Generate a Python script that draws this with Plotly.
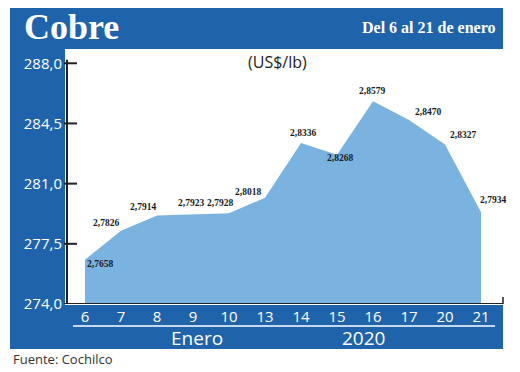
import plotly.graph_objects as go

# ---- data ----
days = ["6", "7", "8", "9", "10", "13", "14", "15", "16", "17", "20", "21"]
prices = [2.7658, 2.7826, 2.7914, 2.7923, 2.7928, 2.8018, 2.8336, 2.8268, 2.8579, 2.8470, 2.8327, 2.7934]
price_labels = ["2,7658", "2,7826", "2,7914", "2,7923", "2,7928", "2,8018",
                "2,8336", "2,8268", "2,8579", "2,8470", "2,8327", "2,7934"]
y_tick_vals = [274.0, 277.5, 281.0, 284.5, 288.0]
y_tick_text = ["274,0", "277,5", "281,0", "284,5", "288,0"]
title_text = "Cobre"
subtitle_text = "Del 6 al 21 de enero"
unit_text = "(US$/lb)"
month_text = "Enero"
year_text = "2020"
source_text = "Fuente: Cochilco"

# label offsets (pixels) and anchors for value labels
label_style = [
    ("left", 0, -4), ("right", 0, 8), ("right", 1, 9), ("center", -2, 11),
    ("center", -9, 10), ("right", -2, 6), ("center", 2, 10), ("center", 3, -3),
    ("center", -1, 10), ("center", 19, 8), ("center", 18, 10), ("center", 12, 12),
]

BLUE = "#1f63ab"
AREA = "#7ab2e0"

OFF = 8  # page body margin
W, H = 520 - OFF, 372 - OFF
L, R, T, B = 67 - OFF, 17, 49 - OFF, 68
PW, PH = W - L - R, H - T - B


def px(x):
    return (x - OFF - L) / PW


def py(y):
    return (H - B - (y - OFF)) / PH


xi = list(range(len(days)))
yv = [p * 100 for p in prices]

fig = go.Figure()
fig.add_trace(go.Scatter(
    x=xi, y=yv, mode="lines", fill="tozeroy",
    line=dict(color=AREA, width=0), fillcolor=AREA, hoverinfo="skip",
))

shapes = [
    # title bar
    dict(type="rect", xref="paper", yref="paper", x0=px(10), x1=px(503), y0=py(49), y1=py(5),
         fillcolor=BLUE, line=dict(width=0), layer="below"),
    # left column
    dict(type="rect", xref="paper", yref="paper", x0=px(10), x1=px(65), y0=py(306), y1=py(49),
         fillcolor=BLUE, line=dict(width=0), layer="below"),
    # bottom band
    dict(type="rect", xref="paper", yref="paper", x0=px(10), x1=px(503), y0=py(349), y1=py(305),
         fillcolor=BLUE, line=dict(width=0), layer="below"),
    # y axis line
    dict(type="line", xref="paper", yref="y", x0=0, x1=0, y0=274, y1=288.2,
         line=dict(color="#222222", width=2)),
    # x axis line
    dict(type="line", xref="paper", yref="y", x0=0, x1=1, y0=274, y1=274,
         line=dict(color="#222222", width=2)),
    dict(type="line", xref="paper", yref="paper", x0=1, x1=1, y0=0, y1=py(297),
         line=dict(color="#222222", width=1.5)),
    # white underline
    dict(type="line", xref="paper", yref="paper", x0=px(73), x1=px(495), y0=py(326), y1=py(326),
         line=dict(color="white", width=1.5)),
]
for v in y_tick_vals:
    shapes.append(dict(type="line", xref="paper", yref="y", x0=px(64), x1=px(77), y0=v, y1=v,
                       line=dict(color="#222222", width=2)))

annotations = [
    dict(text=title_text, xref="paper", yref="paper", x=px(22), y=py(27), xanchor="left", yanchor="middle",
         showarrow=False, font=dict(family="Liberation Serif", size=36, color="white", weight="bold")),
    dict(text=subtitle_text, xref="paper", yref="paper", x=px(497), y=py(27), xanchor="right", yanchor="middle",
         showarrow=False, font=dict(family="Liberation Serif", size=16, color="white", weight="bold")),
    dict(text=unit_text, xref="paper", yref="paper", x=px(277), y=py(62), xanchor="center", yanchor="middle",
         showarrow=False, font=dict(family="Open Sans", size=16, color="#222222")),
    dict(text=month_text, xref="paper", yref="paper", x=px(197), y=py(338), xanchor="center", yanchor="middle",
         showarrow=False, font=dict(family="Open Sans", size=19, color="white")),
    dict(text=year_text, xref="paper", yref="paper", x=px(363), y=py(338), xanchor="center", yanchor="middle",
         showarrow=False, font=dict(family="Open Sans", size=19, color="white")),
    dict(text=source_text, xref="paper", yref="paper", x=px(11), y=py(359), xanchor="left", yanchor="middle",
         showarrow=False, font=dict(family="Open Sans", size=13, color="#333333")),
]
for i, (lab, (anc, dx, dy)) in enumerate(zip(price_labels, label_style)):
    annotations.append(dict(
        text=lab, x=xi[i], y=yv[i], xref="x", yref="y", showarrow=False,
        xanchor=anc, yanchor="middle", xshift=dx, yshift=dy,
        font=dict(family="Liberation Serif", size=9.5, color="#1a1a1a", weight="bold"),
    ))

fig.update_layout(
    width=W, height=H,
    margin=dict(l=L, r=R, t=T, b=B, pad=0),
    paper_bgcolor="white", plot_bgcolor="white",
    showlegend=False,
    shapes=shapes, annotations=annotations,
    xaxis=dict(range=[-0.5, 11.61], tickmode="array", tickvals=xi, ticktext=days,
               showgrid=False, zeroline=False, showline=False, ticks="",
               tickfont=dict(family="Open Sans", size=15, color="white"), ticklabelstandoff=2),
    yaxis=dict(range=[274, 288.83], tickmode="array", tickvals=y_tick_vals, ticktext=y_tick_text,
               showgrid=False, zeroline=False, showline=False, ticks="",
               tickfont=dict(family="Open Sans", size=15, color="white"), ticklabelstandoff=4),
)

fig.write_html("out.html")
